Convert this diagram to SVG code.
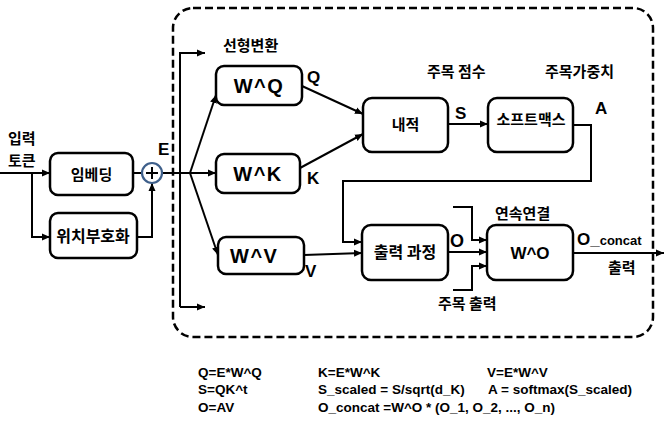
<svg xmlns="http://www.w3.org/2000/svg" width="665" height="430" viewBox="0 0 665 430">
<style>
.node rect{fill:#fff;stroke:#000;stroke-width:2.5}
text{font-family:"Noto Sans CJK KR","Liberation Sans",sans-serif;font-weight:bold;fill:#000}
.k{font-size:15px}
.lat{font-family:"Liberation Sans","Noto Sans CJK KR",sans-serif}
.w{font-size:20px;letter-spacing:1.5px}
.lbl{font-size:17px}
.f{font-family:"Liberation Sans",sans-serif;font-size:13.5px}
.c{fill:none;stroke:#000;stroke-width:2}
</style>
<defs>
<marker id="ar" viewBox="0 0 8 8" refX="8" refY="4" markerWidth="8" markerHeight="8" markerUnits="userSpaceOnUse" orient="auto">
<path d="M0,0.5 L8,4 L0,7.5 z" fill="#000"/>
</marker>
</defs>
<rect x="173" y="8" width="480" height="329" rx="20" fill="none" stroke="#000" stroke-width="2.5" stroke-dasharray="8,4"/>
<g id="connectors">
<path class="c" d="M0,173 H50" marker-end="url(#ar)"/>
<path class="c" d="M32,173 V237 H50" marker-end="url(#ar)"/>
<path class="c" d="M133,173 H142"/>
<path class="c" d="M137,237 H152 V183" marker-end="url(#ar)"/>
<path class="c" d="M162,173 H216" marker-end="url(#ar)"/>
<path class="c" d="M180,307 V53 H205" marker-end="url(#ar)"/>
<path class="c" d="M180,307 H205" marker-end="url(#ar)"/>
<path class="c" d="M190,173 L216,95" marker-end="url(#ar)"/>
<path class="c" d="M190,173 L218,255" marker-end="url(#ar)"/>
<path class="c" d="M302,86 L363,114" marker-end="url(#ar)"/>
<path class="c" d="M300,168 L363,134" marker-end="url(#ar)"/>
<path class="c" d="M304,255 L362,253" marker-end="url(#ar)"/>
<path class="c" d="M448,124 H488" marker-end="url(#ar)"/>
<path class="c" d="M491,127 H573 M573,125 H591 V181 H343 V242 H362" marker-end="url(#ar)"/>
<path class="c" d="M448,252 H487" marker-end="url(#ar)"/>
<path class="c" d="M453,207 H472 V240 H487" marker-end="url(#ar)"/>
<path class="c" d="M453,290 H472 V266 H487" marker-end="url(#ar)"/>
<path class="c" d="M573,253 H664" marker-end="url(#ar)"/>
</g>
<g id="plus">
<circle cx="152" cy="173" r="10" fill="none" stroke="#3e5f8a" stroke-width="2.2"/>
<path d="M146,173 H158 M152,167 V179" stroke="#000" stroke-width="2"/>
</g>
<g id="embed" class="node"><rect x="50" y="153" width="83" height="42" rx="8"/><text class="k" x="91.5" y="180" text-anchor="middle">임베딩</text></g>
<g id="posenc" class="node"><rect x="50" y="213" width="87" height="45" rx="8"/><text x="93" y="242" font-size="16" text-anchor="middle">위치부호화</text></g>
<g id="wq" class="node"><rect x="216" y="66" width="86" height="39" rx="8"/><text class="lat w" x="259" y="93" text-anchor="middle">W^Q</text></g>
<g id="wk" class="node"><rect x="216" y="154" width="84" height="39" rx="8"/><text class="lat w" x="258" y="181" text-anchor="middle">W^K</text></g>
<g id="wv" class="node"><rect x="218" y="237" width="86" height="37" rx="8"/><text class="lat w" x="230" y="263">W^V</text></g>
<g id="dot" class="node"><rect x="363" y="98" width="85" height="54" rx="9"/><text class="k" x="405.5" y="130" text-anchor="middle">내적</text></g>
<g id="softmax" class="node"><rect x="488" y="98" width="85" height="54" rx="9"/><text class="k" x="531" y="125" text-anchor="middle">소프트맥스</text></g>
<g id="outproc" class="node"><rect x="362" y="225" width="86" height="55" rx="9"/><text x="405" y="258" font-size="16" text-anchor="middle">출력 과정</text></g>
<g id="wo" class="node"><rect x="487" y="225" width="86" height="55" rx="9"/><text class="lat" x="530" y="259" font-size="17" text-anchor="middle">W^O</text></g>
<g id="labels">
<text class="k" x="8" y="144">입력</text>
<text class="k" x="8" y="166">토큰</text>
<text class="lat lbl" x="158" y="155">E</text>
<text class="k" x="223" y="51">선형변환</text>
<text class="lat lbl" x="307" y="83">Q</text>
<text class="lat lbl" x="307" y="184">K</text>
<text class="lat lbl" x="305" y="277">V</text>
<text class="k" x="427" y="77">주목 점수</text>
<text class="k" x="545" y="77">주목가중치</text>
<text class="lat lbl" x="455" y="119">S</text>
<text class="lat lbl" x="595" y="114">A</text>
<text class="k" x="495" y="219">연속연결</text>
<text class="lat" x="450" y="247" font-size="18">O</text>
<text class="lat" x="577" y="245"><tspan font-size="17">O_</tspan><tspan font-size="13">concat</tspan></text>
<text class="k" x="608" y="273">출력</text>
<text class="k" x="438" y="309">주목 출력</text>
</g>
<g id="formulas">
<text class="f" x="198" y="377">Q=E*W^Q</text>
<text class="f" x="318" y="377">K=E*W^K</text>
<text class="f" x="487" y="377">V=E*W^V</text>
<text class="f" x="198" y="394">S=QK^t</text>
<text class="f" x="318" y="394">S_scaled = S/sqrt(d_K)</text>
<text class="f" x="488" y="394">A = softmax(S_scaled)</text>
<text class="f" x="198" y="412">O=AV</text>
<text class="f" x="318" y="412">O_concat =W^O * (O_1, O_2, ..., O_n)</text>
</g>
</svg>
